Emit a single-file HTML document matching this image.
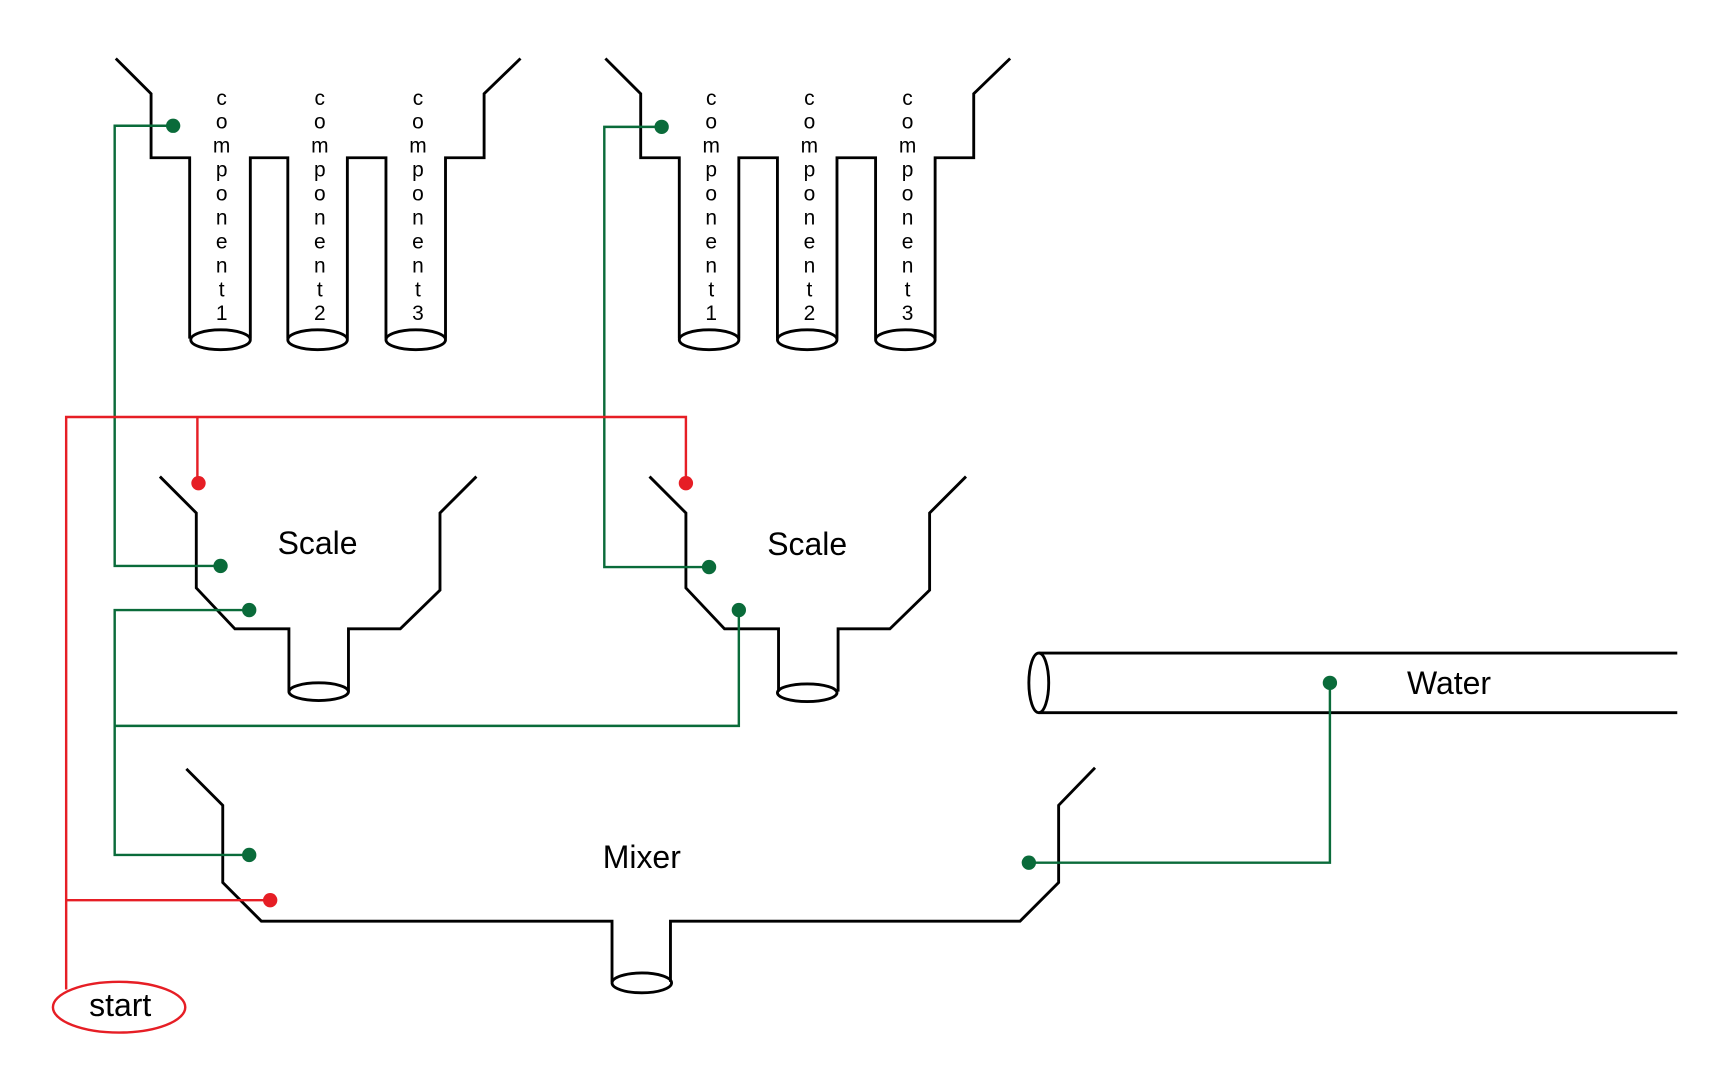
<!DOCTYPE html>
<html><head><meta charset="utf-8"><style>html,body{margin:0;padding:0;background:#fff}svg{display:block}</style></head>
<body>
<svg width="1728" height="1080" viewBox="0 0 1567 979" preserveAspectRatio="none" xmlns="http://www.w3.org/2000/svg">
<g fill="none" stroke="#000" stroke-width="2.6">
<polyline points="105,53 137,85 137,143 172,143 172,307"/>
<polyline points="227,307 227,143 261,143 261,307"/>
<polyline points="315,307 315,143 350,143 350,307"/>
<polyline points="404,307 404,143 439,143 439,85 472,53"/>
<ellipse cx="200" cy="308" rx="27" ry="9"/><ellipse cx="288" cy="308" rx="27" ry="9"/><ellipse cx="377" cy="308" rx="27" ry="9"/>
<polyline points="549,53 581,85 581,143 616,143 616,307"/>
<polyline points="670,307 670,143 705,143 705,307"/>
<polyline points="759,307 759,143 794,143 794,307"/>
<polyline points="848,307 848,143 883,143 883,85 916,53"/>
<ellipse cx="643" cy="308" rx="27" ry="9"/><ellipse cx="732" cy="308" rx="27" ry="9"/><ellipse cx="821" cy="308" rx="27" ry="9"/>
<polyline points="145,432 178,465 178,533 213,570 262,570 262,627"/>
<polyline points="316,627 316,570 363,570 399,535 399,465 432,432"/>
<ellipse cx="289" cy="627" rx="27" ry="8"/>
<polyline points="589,432 622,465 622,533 657,570 706,570 706,627"/>
<polyline points="760,627 760,570 807,570 843,535 843,465 876,432"/>
<ellipse cx="732" cy="628" rx="27" ry="8"/>
<line x1="942" y1="592" x2="1521" y2="592"/><line x1="942" y1="646" x2="1521" y2="646"/>
<ellipse cx="942" cy="619" rx="9" ry="27"/>
<polyline points="169,697 202,730 202,800 237,835 555,835 555,890"/>
<polyline points="608,890 608,835 925,835 960,800 960,730 993,696"/>
<ellipse cx="582" cy="891" rx="27" ry="9"/>
</g>
<g fill="none" stroke="#0a6b3a" stroke-width="2.2">
<polyline points="157,114 104,114 104,513 200,513"/>
<polyline points="600,115 548,115 548,514 643,514"/>
<polyline points="226,553 104,553 104,775 226,775"/>
<polyline points="104,658 670,658 670,553"/>
<polyline points="1206,619 1206,782 933,782"/>
</g>
<g fill="#0a6b3a">
<circle cx="157" cy="114" r="6.5"/><circle cx="600" cy="115" r="6.5"/><circle cx="200" cy="513" r="6.5"/><circle cx="643" cy="514" r="6.5"/>
<circle cx="226" cy="553" r="6.5"/><circle cx="670" cy="553" r="6.5"/><circle cx="226" cy="775" r="6.5"/><circle cx="933" cy="782" r="6.5"/><circle cx="1206" cy="619" r="6.5"/>
</g>
<g fill="none" stroke="#e61e25" stroke-width="2.2">
<polyline points="60,897 60,378 622,378 622,438"/>
<line x1="179" y1="378" x2="179" y2="438"/>
<line x1="60" y1="816" x2="245" y2="816"/>
<ellipse cx="108" cy="913" rx="60" ry="23"/>
</g>
<g fill="#e61e25"><circle cx="180" cy="438" r="6.5"/><circle cx="622" cy="438" r="6.5"/><circle cx="245" cy="816" r="6.5"/></g>
<g font-family="Liberation Sans, sans-serif" fill="#000" text-anchor="middle">
<g font-size="19">
<text x="201" y="95"><tspan x="201">c</tspan><tspan x="201" dy="21.7">o</tspan><tspan x="201" dy="21.7">m</tspan><tspan x="201" dy="21.7">p</tspan><tspan x="201" dy="21.7">o</tspan><tspan x="201" dy="21.7">n</tspan><tspan x="201" dy="21.7">e</tspan><tspan x="201" dy="21.7">n</tspan><tspan x="201" dy="21.7">t</tspan><tspan x="201" dy="21.7">1</tspan></text>
<text x="290" y="95"><tspan x="290">c</tspan><tspan x="290" dy="21.7">o</tspan><tspan x="290" dy="21.7">m</tspan><tspan x="290" dy="21.7">p</tspan><tspan x="290" dy="21.7">o</tspan><tspan x="290" dy="21.7">n</tspan><tspan x="290" dy="21.7">e</tspan><tspan x="290" dy="21.7">n</tspan><tspan x="290" dy="21.7">t</tspan><tspan x="290" dy="21.7">2</tspan></text>
<text x="379" y="95"><tspan x="379">c</tspan><tspan x="379" dy="21.7">o</tspan><tspan x="379" dy="21.7">m</tspan><tspan x="379" dy="21.7">p</tspan><tspan x="379" dy="21.7">o</tspan><tspan x="379" dy="21.7">n</tspan><tspan x="379" dy="21.7">e</tspan><tspan x="379" dy="21.7">n</tspan><tspan x="379" dy="21.7">t</tspan><tspan x="379" dy="21.7">3</tspan></text>
<text x="645" y="95"><tspan x="645">c</tspan><tspan x="645" dy="21.7">o</tspan><tspan x="645" dy="21.7">m</tspan><tspan x="645" dy="21.7">p</tspan><tspan x="645" dy="21.7">o</tspan><tspan x="645" dy="21.7">n</tspan><tspan x="645" dy="21.7">e</tspan><tspan x="645" dy="21.7">n</tspan><tspan x="645" dy="21.7">t</tspan><tspan x="645" dy="21.7">1</tspan></text>
<text x="734" y="95"><tspan x="734">c</tspan><tspan x="734" dy="21.7">o</tspan><tspan x="734" dy="21.7">m</tspan><tspan x="734" dy="21.7">p</tspan><tspan x="734" dy="21.7">o</tspan><tspan x="734" dy="21.7">n</tspan><tspan x="734" dy="21.7">e</tspan><tspan x="734" dy="21.7">n</tspan><tspan x="734" dy="21.7">t</tspan><tspan x="734" dy="21.7">2</tspan></text>
<text x="823" y="95"><tspan x="823">c</tspan><tspan x="823" dy="21.7">o</tspan><tspan x="823" dy="21.7">m</tspan><tspan x="823" dy="21.7">p</tspan><tspan x="823" dy="21.7">o</tspan><tspan x="823" dy="21.7">n</tspan><tspan x="823" dy="21.7">e</tspan><tspan x="823" dy="21.7">n</tspan><tspan x="823" dy="21.7">t</tspan><tspan x="823" dy="21.7">3</tspan></text>
</g>
<g font-size="29">
<text x="288" y="502">Scale</text>
<text x="732" y="503">Scale</text>
<text x="1314" y="629">Water</text>
<text x="582" y="787">Mixer</text>
<text x="109" y="921">start</text>
</g>
</g>
</svg>
</body></html>
